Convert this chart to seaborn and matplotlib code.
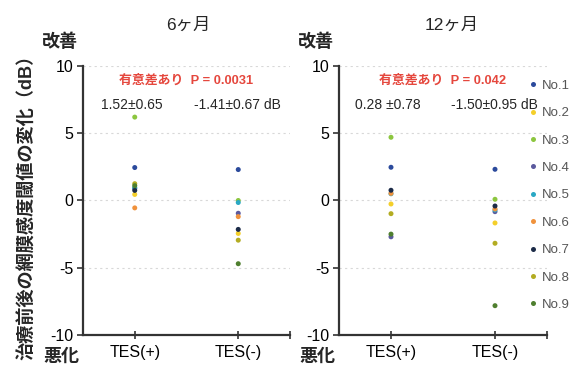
import matplotlib
matplotlib.use("Agg")
import matplotlib.pyplot as plt
import seaborn as sns
import pandas as pd

# 患者 No.1 - No.9 の網膜感度閾値の変化 (dB)
patients = ["No.1", "No.2", "No.3", "No.4", "No.5", "No.6", "No.7", "No.8", "No.9"]
groups = ["TES(+)", "TES(-)"]
colors = ["#2b4a9c", "#f4cf2a", "#8cc63f", "#5b5a9e", "#2aa8c4",
          "#f0923c", "#1c2b48", "#b3ac22", "#4f7f2f"]

m6_tes_pos = [2.45, 0.45, 6.2, 0.9, 0.95, -0.55, 0.75, 1.25, 1.1]
m6_tes_neg = [2.3, -2.45, 0.0, -0.95, -0.15, -1.2, -2.15, -2.95, -4.7]
m12_tes_pos = [2.47, -0.26, 4.7, -2.7, 0.5, 0.53, 0.76, -0.98, -2.5]
m12_tes_neg = [2.32, -1.67, 0.09, -0.83, -0.7, -0.63, -0.41, -3.18, -7.82]

titles = ["6ヶ月", "12ヶ月"]
sig_texts = ["有意差あり  P = 0.0031", "有意差あり  P = 0.042"]
mean_texts = [["1.52±0.65", "-1.41±0.67 dB"], ["0.28 ±0.78", "-1.50±0.95 dB"]]

rows = []
for title, pos, neg in [(titles[0], m6_tes_pos, m6_tes_neg),
                        (titles[1], m12_tes_pos, m12_tes_neg)]:
    for p, a, b in zip(patients, pos, neg):
        rows.append({"period": title, "group": groups[0], "patient": p, "value": a})
        rows.append({"period": title, "group": groups[1], "patient": p, "value": b})
df = pd.DataFrame(rows)

sns.set_theme(style="white")
plt.rcParams["font.family"] = ["Liberation Sans", "Noto Sans CJK JP"]

fig = plt.figure(figsize=(5.87, 3.67), dpi=100)
ax_pos = [[83 / 587, 0.0872, (290 - 83) / 587, 0.733],
          [339 / 587, 0.0872, (547 - 339) / 587, 0.733]]
pal = dict(zip(patients, colors))
red = "#e5473d"

for i, title in enumerate(titles):
    ax = fig.add_axes(ax_pos[i])
    sub = df[df["period"] == title]
    for y in [10, 5, 0, -5]:
        ax.axhline(y, color="#d8d8d8", lw=0.8, ls=(0, (2, 3)), zorder=0)
    sns.stripplot(data=sub, x="group", y="value", hue="patient", order=groups,
                  hue_order=patients, palette=pal, jitter=False, size=3.6,
                  linewidth=0, ax=ax, legend=(i == 1), zorder=3)
    ax.set_xlim(-0.5, 1.5)
    ax.set_ylim(-10, 10)
    ax.set_yticks([-10, -5, 0, 5, 10])
    ax.set_yticklabels(["-10", "-5", "0", "5", "10"], fontsize=11.5)
    ax.set_xticks([0, 1])
    ax.set_xticklabels(groups, fontsize=11.5)
    ax.set_xticks([1.5], minor=True)
    ax.set_xlabel("")
    ax.set_ylabel("")
    for s in ["top", "right"]:
        ax.spines[s].set_visible(False)
    for s in ["left", "bottom"]:
        ax.spines[s].set_color("#333333")
        ax.spines[s].set_linewidth(1.6)
    ax.tick_params(axis="y", direction="out", length=4, width=1.2, colors="#333333",
                   labelcolor="black", pad=3, left=True)
    ax.tick_params(axis="x", which="both", direction="inout", length=6, width=1.2,
                   colors="#333333", labelcolor="black", pad=4, bottom=True)
    ax.text(0.507 if i == 0 else 0.543, 1.152, title, transform=ax.transAxes,
            fontsize=12.5, ha="center", va="center")
    ax.text(0.5, 8.9, sig_texts[i], color=red, fontsize=9.3, ha="center",
            va="center", weight="bold")
    ax.text(-0.03, 7.1, mean_texts[i][0], fontsize=10, ha="center", va="center")
    ax.text(0.99, 7.1, mean_texts[i][1], fontsize=10, ha="center", va="center")
    ax.text(-0.025, 1.09, "改善", transform=ax.transAxes, fontsize=13,
            weight="bold", ha="right", va="center")
    ax.text(-0.015, -0.082, "悪化", transform=ax.transAxes, fontsize=13,
            weight="bold", ha="right", va="center")
    if i == 1:
        handles, labels = ax.get_legend_handles_labels()
        ax.get_legend().remove()
        fig.legend(handles, labels, loc="upper left",
                   bbox_to_anchor=(522 / 587, 1 - 73 / 367), frameon=False,
                   fontsize=9.5, labelspacing=1.15, handlelength=0.6,
                   handletextpad=0.4, borderpad=0, labelcolor="#555555")

fig.text(0.046, 1 - 203 / 367, "治療前後の網膜感度閾値の変化（dB）", rotation=90,
         fontsize=13.1, weight="bold", ha="center", va="center")

fig.savefig("out.png", dpi=100)
